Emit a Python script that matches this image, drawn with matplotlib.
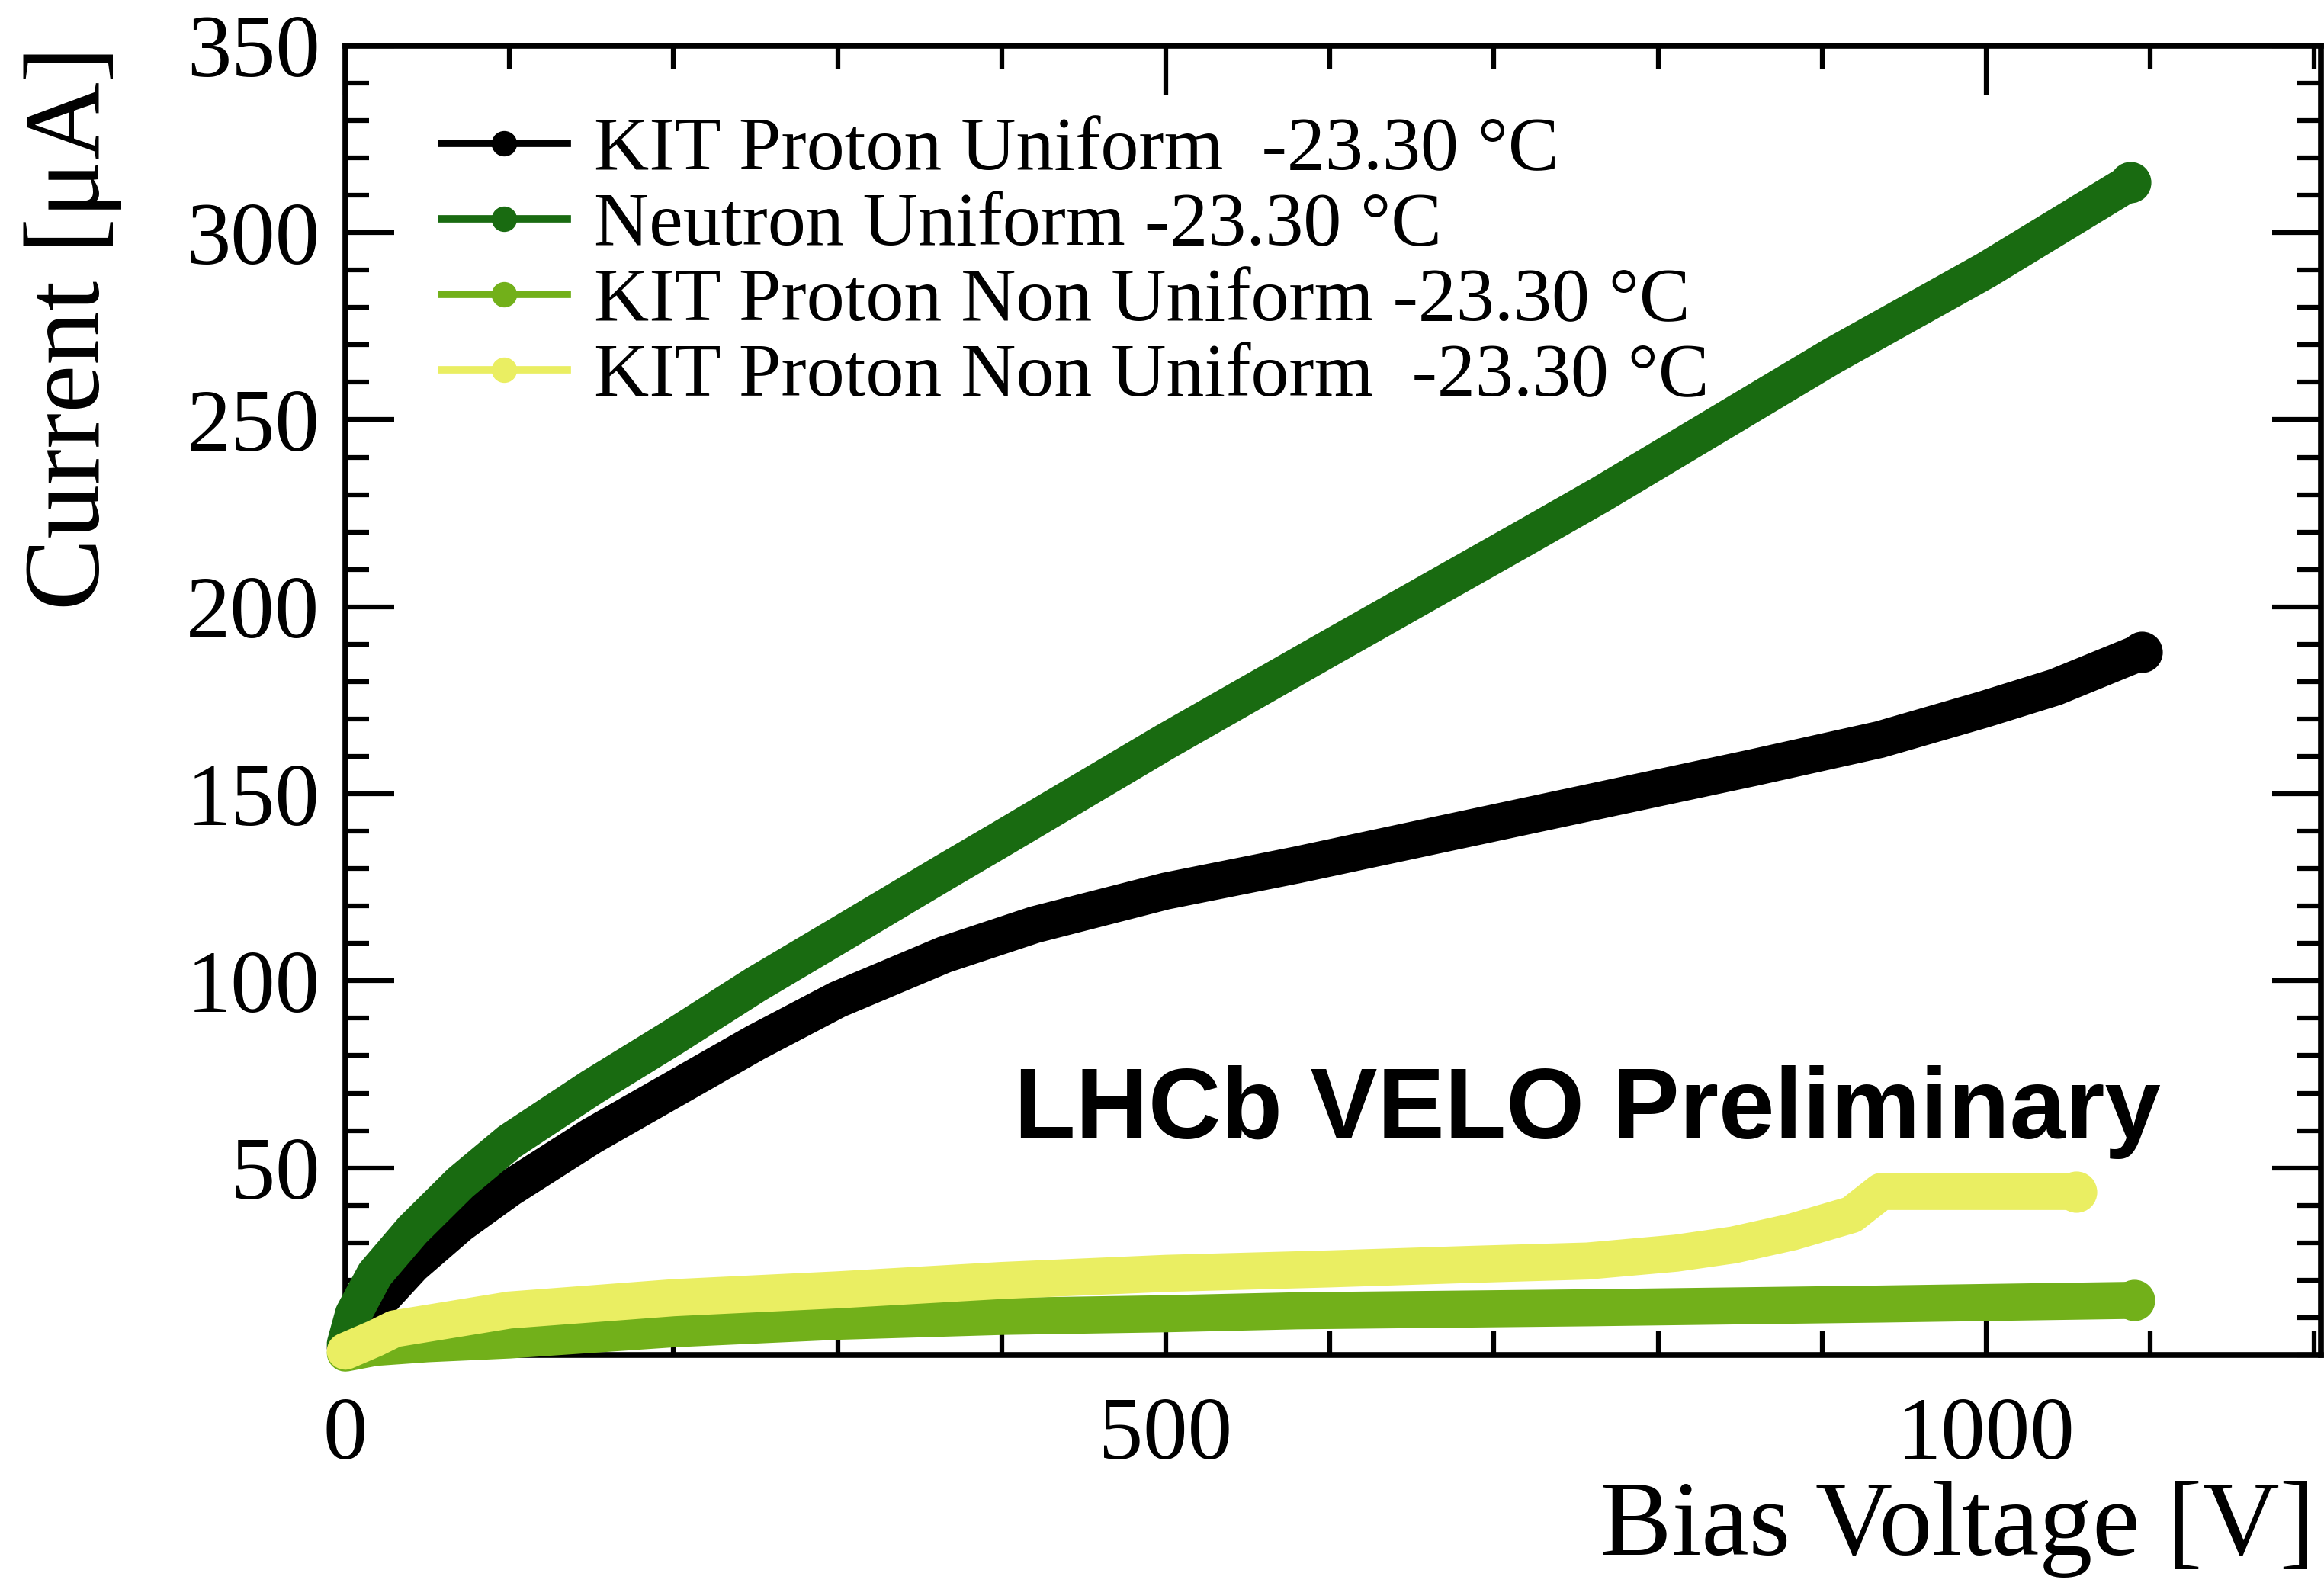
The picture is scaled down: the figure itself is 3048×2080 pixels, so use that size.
import matplotlib
matplotlib.use("Agg")
import matplotlib.pyplot as plt
from matplotlib.lines import Line2D
from matplotlib.ticker import MultipleLocator, FixedLocator

plt.rcParams['font.family'] = ['Liberation Serif', 'DejaVu Serif']

# values (bias voltage [V], current [uA])
v_kit_uni = [0, 5, 20, 41, 70, 100, 150, 200, 250, 300, 365, 420, 500, 580, 719, 858, 935, 998, 1042, 1095]
i_kit_uni = [2, 8, 14, 24, 35, 44.5, 58.5, 71, 83.5, 95, 107, 115, 124, 131, 144, 157, 164.5, 172.5, 178.5, 188]

v_neutron = [0, 5, 18, 41, 70, 100, 150, 200, 250, 300, 365, 400, 500, 600, 719, 765, 906, 1000, 1088]
i_neutron = [3, 11, 21.6, 33.4, 46, 57, 71.5, 85, 99, 112, 129, 138, 164, 189, 218.5, 230, 267, 290, 313.5]

v_kit_nonuni = [0, 18, 50, 100, 200, 300, 400, 500, 580, 757, 936, 1090]
i_kit_nonuni = [0.5, 2, 3, 4, 7, 9, 10.3, 11, 11.8, 12.6, 13.6, 14.6]

v_kit_nonuni2 = [0, 18, 30, 100, 200, 300, 400, 500, 600, 686, 757, 811, 846, 882, 918, 936, 1055]
i_kit_nonuni2 = [1, 4.4, 7, 12, 15.3, 17.4, 19.9, 21.8, 23, 24.2, 25.1, 27.2, 29.4, 32.9, 37.5, 43.7, 43.7]

labels = ["KIT Proton Uniform  -23.30 °C",
          "Neutron Uniform -23.30 °C",
          "KIT Proton Non Uniform -23.30 °C",
          "KIT Proton Non Uniform  -23.30 °C"]
colors = ["#000000", "#196b11", "#72b01a", "#eaee62"]

series = [(v_kit_uni, i_kit_uni), (v_neutron, i_neutron),
          (v_kit_nonuni, i_kit_nonuni), (v_kit_nonuni2, i_kit_nonuni2)]

fig = plt.figure(figsize=(30.48, 20.8), dpi=100)
ax = fig.add_axes([0.1486, 0.1457, 0.8501, 0.8255])

for (v, cur), c in zip(series, colors):
    ax.plot(v, cur, color=c, lw=35, solid_capstyle='round', solid_joinstyle='round',
            marker='o', ms=38, markevery=[len(v) - 1], mec=c, mfc=c,
            clip_on=False, zorder=3)

ax.set_xlim(0, 1204)
ax.set_ylim(0, 350)

ax.xaxis.set_major_locator(FixedLocator([0, 500, 1000]))
ax.xaxis.set_minor_locator(MultipleLocator(100))
ax.yaxis.set_major_locator(FixedLocator([50, 100, 150, 200, 250, 300, 350]))
ax.yaxis.set_minor_locator(MultipleLocator(10))

ax.tick_params(which='both', direction='in', top=True, right=True, width=4.5, colors='black')
ax.tick_params(which='major', length=46)
ax.tick_params(which='minor', length=22)
ax.tick_params(axis='x', which='major', labelsize=84, pad=40)
ax.tick_params(axis='y', which='major', labelsize=84, pad=24)
for s in ax.spines.values():
    s.set_linewidth(5.5)

ax.set_xlabel("Bias Voltage [V]", fontsize=101, loc='right')
ax.xaxis.set_label_coords(0.997, -0.096)
ax.set_ylabel("Current [μA]", fontsize=102, loc='top')
ax.yaxis.set_label_coords(-0.113, 1.0)

handles = [Line2D([], [], color=c, lw=7, marker='o', ms=23) for c in colors]
ax.legend(handles, labels, loc='upper left', bbox_to_anchor=(0.0486, 0.946),
          frameon=False, fontsize=72, handlelength=1.65, handletextpad=0.35,
          labelspacing=0.08, borderpad=0, borderaxespad=0)

ax.text(0.919, 0.1654, "LHCb VELO Preliminary", transform=ax.transAxes,
        ha='right', va='baseline', fontsize=95, fontweight='bold',
        family=['Liberation Sans', 'DejaVu Sans'])

fig.savefig("out.png", dpi=100)
